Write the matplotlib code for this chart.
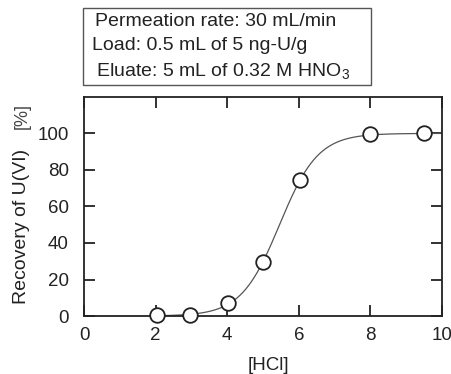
import numpy as np
import matplotlib
matplotlib.use("Agg")
import matplotlib.pyplot as plt
from matplotlib.patches import Rectangle

plt.rcParams['font.family'] = ['Liberation Sans', 'DejaVu Sans']
plt.rcParams['mathtext.fontset'] = 'custom'
plt.rcParams['mathtext.rm'] = 'Liberation Sans'
plt.rcParams['mathtext.default'] = 'regular'

hcl = [2.05, 2.97, 4.02, 5.0, 6.02, 8.0, 9.5]
recovery = [0.8, 0.8, 7.3, 29.5, 74.3, 99.8, 100.4]
x_ticks = [0, 2, 4, 6, 8, 10]
y_ticks = [0, 20, 40, 60, 80, 100]
box_lines = ["Permeation rate: 30 mL/min", "Load: 0.5 mL of 5 ng-U/g", "Eluate: 5 mL of 0.32 M HNO$_3$"]

# logistic fit to the data (grid search least squares)
xd = np.array(hcl); yd = np.array(recovery)
best = None
for k in np.linspace(1.0, 3.0, 201):
    for x0 in np.linspace(4.5, 6.5, 201):
        pred = 100.0 / (1 + np.exp(-k * (xd - x0)))
        err = np.sum((pred - yd) ** 2)
        if best is None or err < best[0]:
            best = (err, k, x0)
_, kf, x0f = best
xc = np.linspace(2.05, 10, 400)
yc = 100.0 / (1 + np.exp(-kf * (xc - x0f)))

fig = plt.figure(figsize=(4.52, 3.74), dpi=100)
ax = fig.add_axes([0.186, 0.155, 0.792, 0.586])
ax.plot(xc, yc, color='#555555', lw=0.9, zorder=2)
ax.plot(hcl, recovery, 'o', ms=10.5, mfc='white', mec='#222222', mew=1.3, zorder=3, clip_on=False)
ax.set_xlim(0, 10)
ax.set_ylim(0, 120)
ax.set_xticks(x_ticks)
ax.set_yticks(y_ticks)
ax.tick_params(direction='in', length=8, width=1.3, top=True, right=True,
               labelsize=13.5, colors='#222222')
ax.tick_params(axis='y', pad=11)
ax.tick_params(axis='x', pad=8)
for s in ax.spines.values():
    s.set_linewidth(1.3)
    s.set_color('#222222')

fig.text(268/452, 1-365/374, '[HCl]', fontsize=13.5, color='#222222', ha='center', va='center')
fig.text(22/452, 1-226/374, 'Recovery of U(VI)', rotation=90, fontsize=14, color='#222222',
         ha='center', va='center')
fig.text(22/452, 1-116/374, '[%]', rotation=90, fontsize=13, color='#444444',
         ha='center', va='center')

fig.patches.append(Rectangle((83/452, 1-85/374), (371-83)/452, (85-8)/374,
                             transform=fig.transFigure, fill=False, ec='#555555', lw=1.0))
ys = [21, 46, 71]
xs = [95, 92, 96]
for t, y, x in zip(box_lines, ys, xs):
    fig.text(x/452, 1-y/374, t, fontsize=14, color='#222222', ha='left', va='center')

fig.savefig('out.png', dpi=100)
